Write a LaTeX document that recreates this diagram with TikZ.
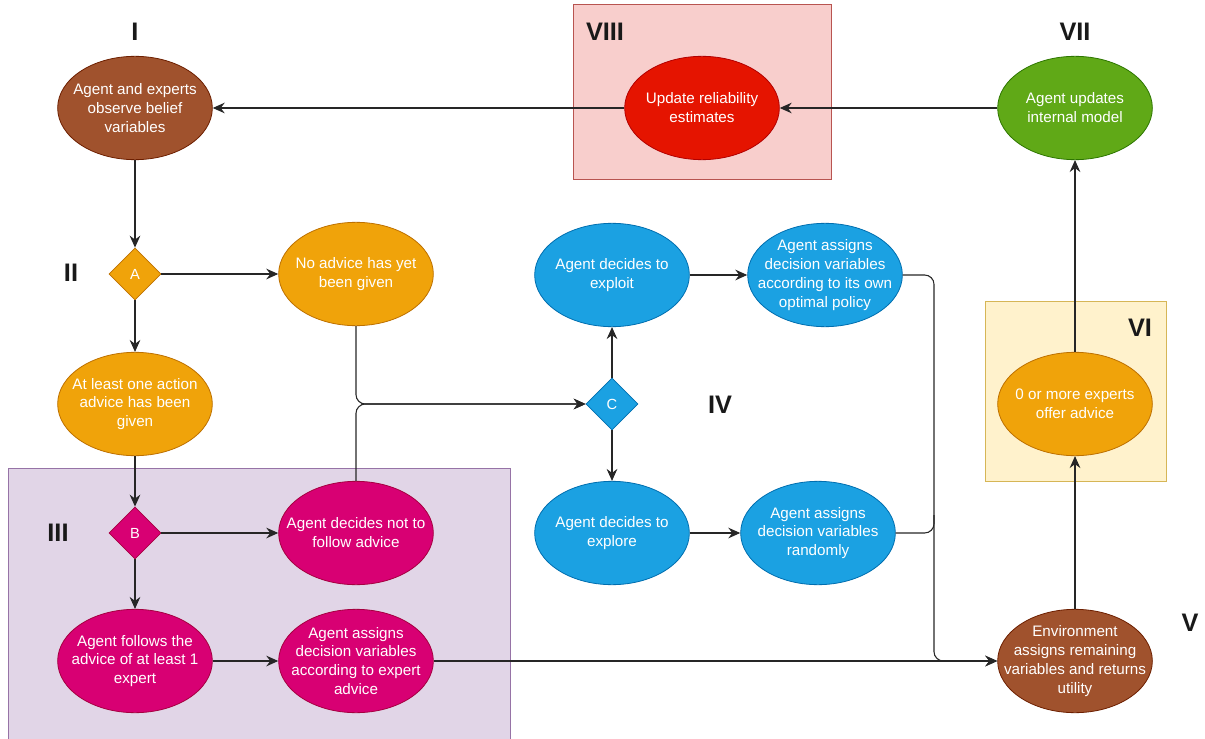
\documentclass[tikz,border=0pt]{standalone}
\usepackage{fontspec}
\setmainfont{Liberation Sans}
\usetikzlibrary{shapes.geometric,arrows.meta}
\definecolor{brownF}{HTML}{A0522D}\definecolor{brownS}{HTML}{6D1F00}
\definecolor{redF}{HTML}{E51400}\definecolor{redS}{HTML}{B20000}
\definecolor{greenF}{HTML}{60A917}\definecolor{greenS}{HTML}{2D7600}
\definecolor{orangeF}{HTML}{F0A30A}\definecolor{orangeS}{HTML}{BD7000}
\definecolor{magF}{HTML}{D80073}\definecolor{magS}{HTML}{A50040}
\definecolor{blueF}{HTML}{1BA1E2}\definecolor{blueS}{HTML}{006EAF}
\definecolor{pinkBg}{HTML}{F8CECC}\definecolor{pinkBd}{HTML}{B85450}
\definecolor{purpBg}{HTML}{E1D5E7}\definecolor{purpBd}{HTML}{9673A6}
\definecolor{yelBg}{HTML}{FFF2CC}\definecolor{yelBd}{HTML}{D6B656}
\tikzset{
  ell/.style={ellipse,draw=#1S,fill=#1F,line width=0.6pt,minimum width=116pt,minimum height=77.5pt,
    inner xsep=-14pt,inner ysep=-10pt,
    text=white,align=center,font=\fontsize{11.4}{14.2}\selectfont},
  dia/.style={diamond,draw=#1S,fill=#1F,line width=0.6pt,minimum width=39pt,minimum height=39pt,inner sep=0pt,
    text=white,font=\fontsize{11}{13}\selectfont},
  roman/.style={font=\bfseries\fontsize{19}{22}\selectfont,text=black!90},
  conn/.style={draw=black!85,line width=0.8pt,-{Stealth[length=9pt,width=8pt,inset=3pt]}},
  plain/.style={draw=black!85,line width=0.8pt},
}
\begin{document}
\begin{tikzpicture}[x=0.75pt,y=-0.75pt]
\useasboundingbox (0,0) rectangle (1205,738);
% background boxes
\node[draw=pinkBd,fill=pinkBg,line width=0.75pt,minimum width=193.5pt,minimum height=130.5pt,inner sep=0pt] (boxVIII) at (702,92) {};
\node[draw=purpBd,fill=purpBg,line width=0.75pt,minimum width=376.5pt,minimum height=210pt,inner sep=0pt,anchor=north west] (boxIII) at (8,468) {};
\node[draw=yelBd,fill=yelBg,line width=0.75pt,minimum width=135.75pt,minimum height=135pt,inner sep=0pt] (boxVI) at (1075.5,391) {};
% labels
\node[roman] (lI) at (135,32) {I};
\node[roman] (lII) at (71,273) {II};
\node[roman] (lIII) at (58,533) {III};
\node[roman] (lIV) at (720,405) {IV};
\node[roman] (lV) at (1190,623) {V};
\node[roman] (lVI) at (1140,328) {VI};
\node[roman] (lVII) at (1075,32) {VII};
\node[roman] (lVIII) at (605,32) {VIII};
% nodes
\node[ell=brown] (obs) at (135,108) {Agent and experts\\observe belief\\variables};
\node[ell=red] (upd) at (702,108) {Update reliability\\estimates};
\node[ell=green] (model) at (1075,108) {Agent updates\\internal model};
\node[dia=orange] (A) at (135,274) {A};
\node[ell=orange] (noadv) at (356,274) {No advice has yet\\been given};
\node[ell=orange] (atleast) at (135,404) {At least one action\\advice has been\\given};
\node[dia=mag] (B) at (135,533) {B};
\node[ell=mag] (notf) at (356,533) {Agent decides not to\\follow advice};
\node[ell=mag] (follows) at (135,661) {Agent follows the\\advice of at least 1\\expert};
\node[ell=mag] (assexp) at (356,661) {Agent assigns\\decision variables\\according to expert\\advice};
\node[dia=blue] (C) at (612,404) {C};
\node[ell=blue] (exploit) at (612,275) {Agent decides to\\exploit};
\node[ell=blue] (optimal) at (825,275) {Agent assigns\\decision variables\\according to its own\\optimal policy};
\node[ell=blue] (explore) at (612,533) {Agent decides to\\explore};
\node[ell=blue] (random) at (818,533) {Agent assigns\\decision variables\\randomly};
\node[ell=orange] (offer) at (1075,404) {0 or more experts\\offer advice};
\node[ell=brown] (env) at (1075,661) {Environment\\assigns remaining\\variables and returns\\utility};
% connectors
\draw[conn] (upd) -- (obs);
\draw[conn] (model) -- (upd);
\draw[conn] (obs) -- (A);
\draw[conn] (A) -- (noadv);
\draw[conn] (A) -- (atleast);
\draw[conn] (atleast) -- (B);
\draw[conn] (B) -- (notf);
\draw[conn] (B) -- (follows);
\draw[conn] (follows) -- (assexp);
\draw[conn,rounded corners=7pt] (noadv.south) |- (C.west);
\draw[conn,rounded corners=7pt] (notf.north) |- (C.west);
\draw[conn] (C) -- (exploit);
\draw[conn] (C) -- (explore);
\draw[conn] (exploit) -- (optimal);
\draw[conn] (explore) -- (random);
\coordinate (join) at (934,515);
\draw[conn,rounded corners=7pt] (optimal.east) -| (934,661) -- (env.west);
\draw[plain,rounded corners=7pt] (random.east) -| (join);
\draw[conn] (assexp.east) -- (env.west);
\draw[conn] (env) -- (offer);
\draw[conn] (offer) -- (model);
\end{tikzpicture}
\end{document}
